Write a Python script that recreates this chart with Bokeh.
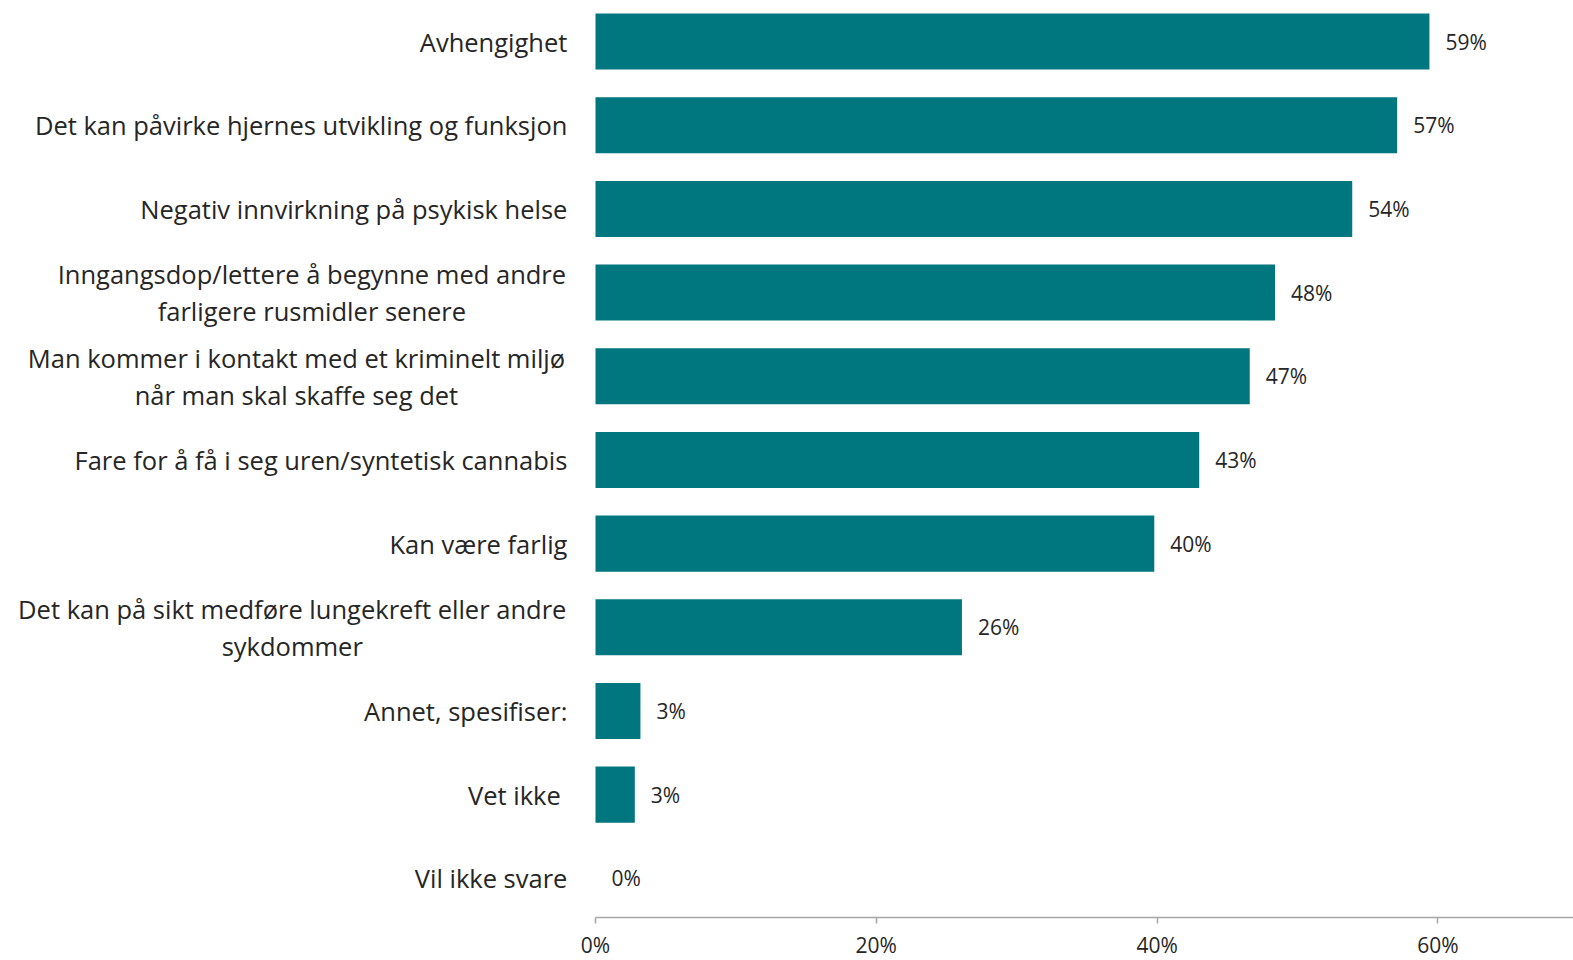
from bokeh.plotting import figure
from bokeh.models import Range1d, FixedTicker, ColumnDataSource
from bokeh.core.properties import value
from bokeh.embed import file_html
from bokeh.resources import INLINE

# ---- data ----
categories = [
    "Avhengighet",
    "Det kan påvirke hjernes utvikling og funksjon",
    "Negativ innvirkning på psykisk helse",
    "Inngangsdop/lettere å begynne med andre\nfarligere rusmidler senere",
    "Man kommer i kontakt med et kriminelt miljø\nnår man skal skaffe seg det",
    "Fare for å få i seg uren/syntetisk cannabis",
    "Kan være farlig",
    "Det kan på sikt medføre lungekreft eller andre\nsykdommer",
    "Annet, spesifiser:",
    "Vet ikke ",
    "Vil ikke svare",
]
values = [59.4, 57.1, 53.9, 48.4, 46.6, 43.0, 39.8, 26.1, 3.2, 2.8, 0.0]
value_labels = ["59%", "57%", "54%", "48%", "47%", "43%", "40%", "26%", "3%", "3%", "0%"]
tick_values = [0, 20, 40, 60]
tick_labels = ["0%", "20%", "40%", "60%"]

# ---- layout / style ----
BAR_COLOR = "#00767F"
TEXT_COLOR = "#262626"
FONT = "Open Sans"
FRAME_H = 917
X_START, X_END = -42.38, 69.66
Y_TOP = -0.491
Y_BOTTOM = Y_TOP + FRAME_H / 83.67
# horizontal anchor (data units) of each category label block
label_x = [-2.0, -2.0, -2.0, -20.2, -21.3, -2.0, -2.0, -21.6, -2.0, -2.0, -2.0]
label_align = ["right" if "\n" not in c else "center" for c in categories]

idx = list(range(len(categories)))
src = ColumnDataSource(dict(y=idx, v=values, vl=value_labels, cat=categories,
                            lx=label_x, la=label_align))

p = figure(frame_width=1573, frame_height=FRAME_H, output_backend="svg",
           toolbar_location=None, y_axis_location=None,
           x_range=Range1d(X_START, X_END), y_range=Range1d(Y_BOTTOM, Y_TOP),
           min_border=0, min_border_left=0, min_border_right=0, min_border_top=0,
           min_border_bottom=0)
p.outline_line_color = None
p.grid.visible = False
p.background_fill_color = "white"

p.hbar(y="y", left=0, right="v", height=0.67, source=src,
       fill_color=BAR_COLOR, line_color=None)

p.text(x="v", y="y", text="vl", source=src, x_offset=16,
       text_align="left", text_baseline="middle",
       text_font=value(FONT), text_font_size="21px", text_color=TEXT_COLOR)

p.text(x="lx", y="y", text="cat", source=src, text_align="la",
       text_baseline="middle", text_font=value(FONT), text_font_size="25.5px",
       text_color=TEXT_COLOR, text_line_height=1.1)

ax = p.xaxis[0]
ax.ticker = FixedTicker(ticks=tick_values)
ax.major_label_overrides = {t: l for t, l in zip(tick_values, tick_labels)}
ax.bounds = (0, X_END)
ax.axis_line_color = "#A6A6A6"
ax.axis_line_width = 1.5
ax.major_tick_line_color = "#A6A6A6"
ax.major_tick_line_width = 1.5
ax.major_tick_in = 0
ax.major_tick_out = 6
ax.minor_tick_line_color = None
ax.major_label_standoff = 7
ax.major_label_text_font = FONT
ax.major_label_text_font_size = "21px"
ax.major_label_text_color = TEXT_COLOR

open("out.html", "w").write(file_html(p, INLINE))
